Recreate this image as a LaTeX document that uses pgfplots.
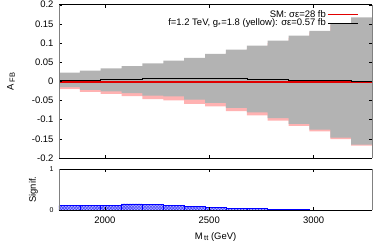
\documentclass[border=0pt]{standalone}
\usepackage{pgfplots}
\pgfplotsset{compat=1.18}
\usepackage{pgfplotstable}
\usepgfplotslibrary{fillbetween}
\usetikzlibrary{patterns}
\usepackage{fontspec}
\setmainfont{Liberation Sans}

% bins of 100 GeV, left edges; last row repeats the last bin (right edge)
\pgfplotstableread{
x     top    bot     ptop    pbot     black   red
1780  0.023  -0.015  0.0185  -0.0195  0.003  -0.0015
1880  0.028  -0.022  0.0225  -0.0275  0.004  -0.0015
1980  0.034  -0.026  0.0275  -0.0325  0.005  -0.0015
2080  0.040  -0.031  0.0325  -0.0385  0.006  -0.0015
2180  0.047  -0.037  0.0375  -0.0465  0.008  -0.0015
2280  0.054  -0.039  0.0435  -0.0495  0.009  -0.0015
2380  0.061  -0.048  0.0505  -0.0585  0.009  -0.0015
2480  0.072  -0.056  0.0625  -0.0655  0.008  -0.0015
2580  0.083  -0.069  0.0745  -0.0775  0.007  -0.0015
2680  0.093  -0.081  0.0855  -0.0885  0.006  -0.0015
2780  0.106  -0.096  0.0995  -0.1025  0.005  -0.0015
2880  0.119  -0.111  0.1135  -0.1165  0.004  -0.0015
2980  0.132  -0.126  0.1275  -0.1305  0.003  -0.0015
3080  0.151  -0.147  0.1475  -0.1505  0.002  -0.0015
3180  0.167  -0.165  0.1645  -0.1675  0.001  -0.0015
3280  0.167  -0.165  0.1645  -0.1675  0.001  -0.0015
}\bandtable

\pgfplotstableread{
x     sig
1780  0.105
1880  0.12
1980  0.12
2080  0.15
2180  0.14
2280  0.12
2380  0.08
2480  0.065
2580  0.04
2680  0.04
2780  0.02
2880  0.02
2980  0.0
3080  0.0
3180  0.0
3280  0.0
}\sigtable

\definecolor{bandgray}{RGB}{179,179,179}
\definecolor{bandpink}{RGB}{255,178,178}
\definecolor{smred}{RGB}{225,0,0}

\pgfplotsset{
  every axis/.append style={
    scale only axis,
    width=313bp,
    xmin=1780, xmax=3280,
    tick align=inside,
    major tick length=3bp,
    tick style={black, line width=0.4pt},
    separate axis lines,
    x axis line style={black, line width=0.6pt},
    y axis line style={gray, line width=0.6pt},
    tick label style={font=\fontsize{9.5}{11}\selectfont},
    /pgf/number format/assume math mode=true,
    /pgf/number format/set thousands separator={},
    axis on top,
  },
}

\begin{document}
\begin{tikzpicture}
\begin{axis}[
  at={(59bp,86bp)}, anchor=south west,
  height=153.3bp,
  ymin=-0.2, ymax=0.2,
  ytick={-0.2,-0.15,-0.1,-0.05,0,0.05,0.1,0.15,0.2},
  yticklabel style={/pgf/number format/fixed, /pgf/number format/precision=2, xshift=-2bp},
  xtick={2000,2500,3000},
  xticklabels={},
  ylabel={A\,{\fontsize{7.5}{8}\selectfont\raisebox{-0.35ex}{FB}}},
  every axis y label/.style={at={(axis description cs:-0.1534,0.5)}, anchor=center, rotate=90, font=\fontsize{9.5}{11}\selectfont},
  legend style={draw=none, fill=none, at={(0.966,0.985)}, anchor=north east,
    font=\fontsize{9.5}{11}\selectfont, row sep=-3.2pt,
    nodes={inner sep=1.5pt}},
  legend plot pos=right,
  legend cell align=right,
  legend image code/.code={\draw[#1] (0bp,0bp) -- (30bp,0bp);},
]
\addlegendimage{smred, line width=0.8pt}
\addlegendentry{SM: σε=28 fb}
\addlegendimage{black, line width=0.8pt}
\addlegendentry{f=1.2 TeV, g\textsubscript{*}=1.8 (yellow): σε=0.57 fb}

\addplot[name path=pt, draw=none, const plot mark left, forget plot] table[x=x, y=ptop] {\bandtable};
\addplot[name path=pb, draw=none, const plot mark left, forget plot] table[x=x, y=pbot] {\bandtable};
\addplot[bandpink, forget plot] fill between[of=pt and pb];
\addplot[name path=gt, draw=none, const plot mark left, forget plot] table[x=x, y=top] {\bandtable};
\addplot[name path=gb, draw=none, const plot mark left, forget plot] table[x=x, y=bot] {\bandtable};
\addplot[bandgray, forget plot] fill between[of=gt and gb];
\addplot[smred, line width=1.6pt, const plot mark left, forget plot] table[x=x, y=red] {\bandtable};
\addplot[black, line width=0.6pt, const plot mark left, forget plot] table[x=x, y=black] {\bandtable};
\end{axis}

\begin{axis}[
  at={(59bp,34bp)}, anchor=south west,
  height=40.7bp,
  ymin=0, ymax=1,
  ytick={0,1},
  yticklabel style={font=\fontsize{7}{8}\selectfont, xshift=-2bp},
  xtick={2000,2500,3000},
  xticklabel style={yshift=-3bp},
  ylabel={Signif.},
  every axis y label/.style={at={(axis description cs:-0.0815,0.5)}, anchor=center, rotate=90, font=\fontsize{9.5}{11}\selectfont},
  xlabel={M\,{\fontsize{7.5}{8}\selectfont\raisebox{-0.35ex}{tt}} (GeV)},
  every axis x label/.style={at={(axis description cs:0.5,-0.66)}, anchor=center, font=\fontsize{9.5}{11}\selectfont},
]
\addplot[ybar interval, draw=blue, line width=0.6pt, fill=blue!30,
  postaction={pattern=crosshatch, pattern color=blue!80}] table[x=x, y=sig] {\sigtable};
\end{axis}
\pgfresetboundingbox
\path[use as bounding box] (0,0) rectangle (374bp,244bp);
\end{tikzpicture}
\end{document}
